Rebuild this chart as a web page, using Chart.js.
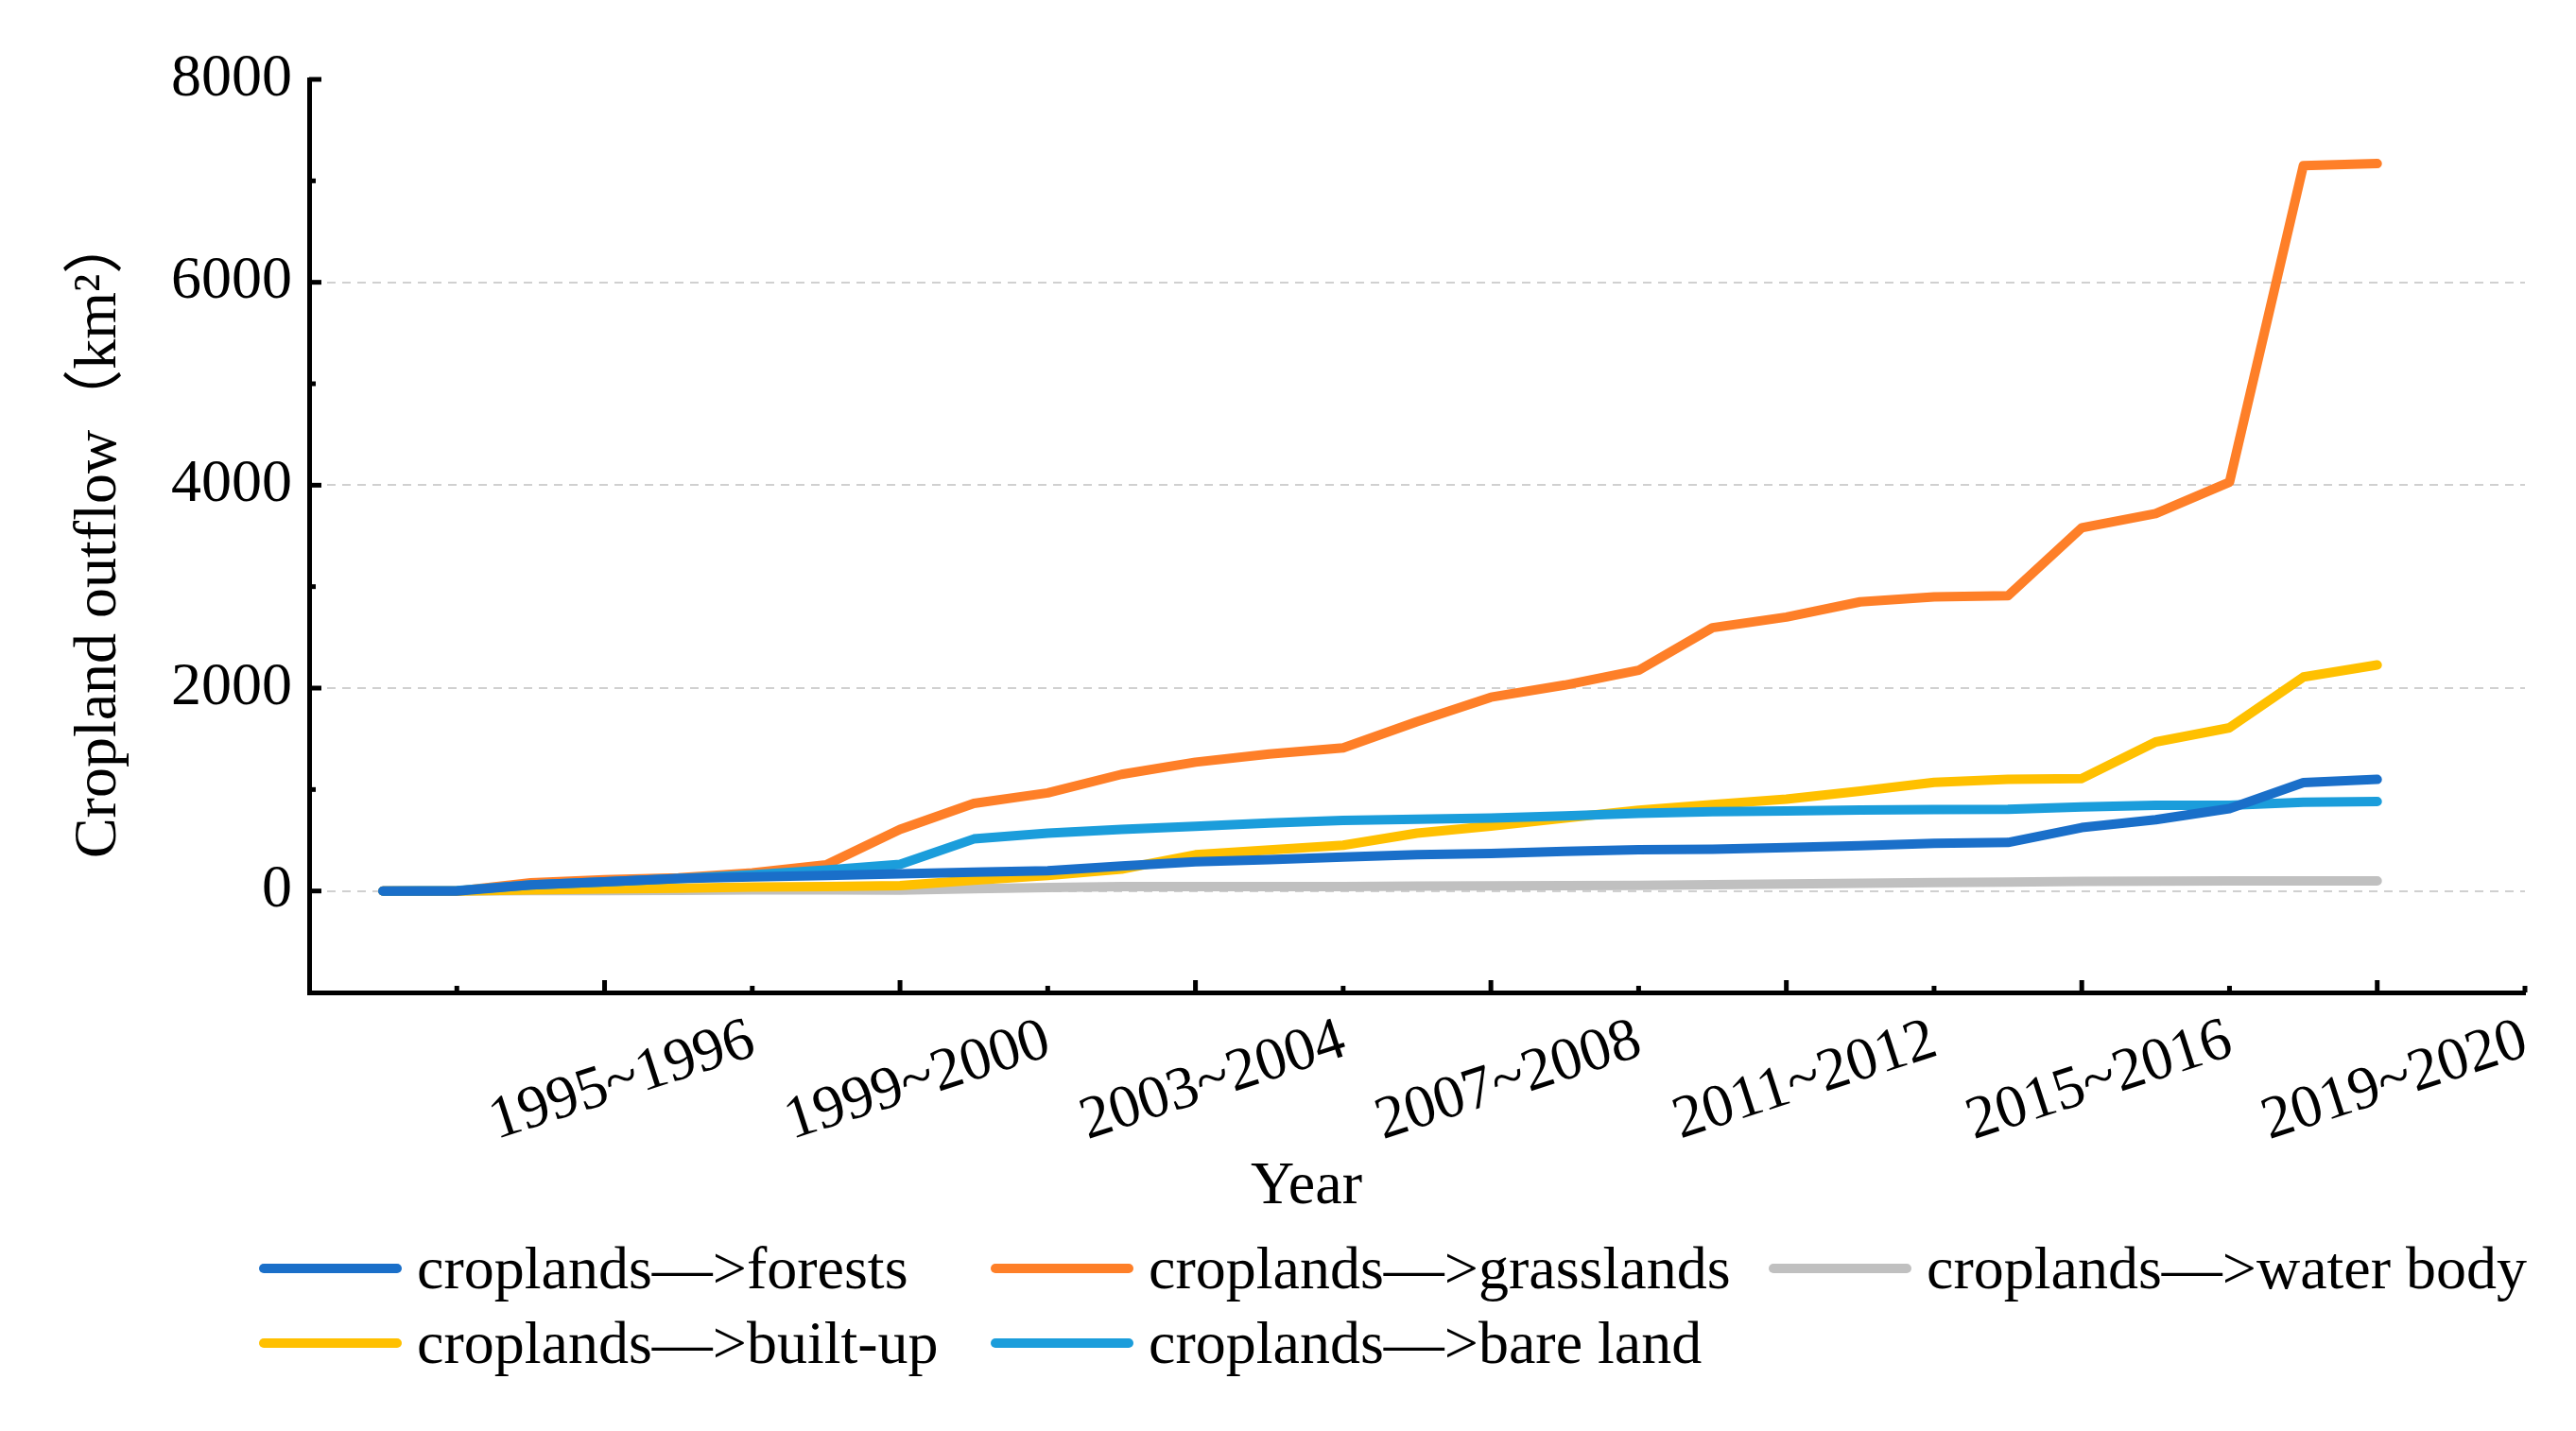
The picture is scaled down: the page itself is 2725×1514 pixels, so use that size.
<!DOCTYPE html>
<html><head><meta charset="utf-8">
<script src="https://cdn.jsdelivr.net/npm/chart.js@4.4.1/dist/chart.umd.min.js"></script>
<style>
html,body{margin:0;padding:0;background:#fff;}
#wrap{position:relative;width:2725px;height:1514px;overflow:hidden;}
canvas{position:absolute;left:0;top:0;}
.serif{font-family:"Liberation Serif","Times New Roman",serif;color:#000;}
#xtitle{position:absolute;left:1382px;top:1252px;transform:translate(-50%,-50%);font-size:64px;line-height:1;}
.leg{position:absolute;display:flex;align-items:center;font-size:64px;line-height:1;white-space:nowrap;transform:translateY(-50%);}
.leg .sw{width:151px;height:10px;border-radius:5px;margin-right:16px;}
</style></head>
<body><div id="wrap"><canvas id="c" width="2725" height="1514"></canvas>
<div id="xtitle" class="serif">Year</div><div id="legend"></div></div>
<script>
const categories = ["1992~1993","1993~1994","1994~1995","1995~1996","1996~1997","1997~1998","1998~1999","1999~2000","2000~2001","2001~2002","2002~2003","2003~2004","2004~2005","2005~2006","2006~2007","2007~2008","2008~2009","2009~2010","2010~2011","2011~2012","2012~2013","2013~2014","2014~2015","2015~2016","2016~2017","2017~2018","2018~2019","2019~2020"];
const forests    = [0,0,60,90,122,138,153,169,185,200,247,288,310,335,359,369,390,406,412,428,447,469,478,625,703,812,1069,1100];
const grasslands = [0,0,80,110,130,178,257,607,864,967,1150,1270,1350,1410,1670,1910,2030,2175,2595,2700,2850,2900,2910,3580,3720,4030,7150,7170];
const waterBody  = [0,0,5,5,6,10,10,8,22,34,44,44,44,44,47,50,53,56,62,69,75,84,88,94,97,100,100,100];
const builtUp    = [0,0,10,20,28,38,44,53,106,153,216,357,404,451,570,640,719,797,853,906,984,1070,1100,1109,1469,1609,2109,2228];
const bareLand   = [0,5,60,90,122,160,207,263,513,570,607,638,670,695,707,719,741,766,781,788,797,803,806,828,844,844,875,881];
const seriesNames = ["croplands\u2014>forests","croplands\u2014>grasslands","croplands\u2014>water body","croplands\u2014>built-up","croplands\u2014>bare land"];
const seriesColors = ["#1A6FC9","#FE7F28","#C0C0C0","#FFC000","#1B9DDB"];
const yTickLabels = [0,2000,4000,6000,8000];
const xLabelIndices = [3,7,11,15,19,23,27];

const serif = '"Liberation Serif","Times New Roman", "Noto Sans CJK SC", serif';
const values = [forests, grasslands, waterBody, builtUp, bareLand];
const drawOrder = [0,3,4,2,1];

const datasets = values.map((v,k)=>({
  label: seriesNames[k], data: v, borderColor: seriesColors[k], backgroundColor: seriesColors[k],
  borderWidth: 10, pointRadius: 0, tension: 0, borderCapStyle:'round', borderJoinStyle:'round',
  order: drawOrder[k], fill:false
}));

const tickPlugin = {
  id:'inTicks',
  afterDraw(chart){
    const {ctx, scales:{x,y}, chartArea:a} = chart;
    ctx.save(); ctx.strokeStyle='#000'; ctx.lineWidth=5; ctx.lineCap='butt';
    y.ticks.forEach(t=>{
      if (t.value <= -1000) return;
      const len = (t.value % 2000 === 0) ? 13 : 7;
      const py = y.getPixelForValue(t.value);
      ctx.beginPath(); ctx.moveTo(a.left, py); ctx.lineTo(a.left+len, py); ctx.stroke();
    });
    x.ticks.forEach(t=>{
      const len = xLabelIndices.includes(t.value) ? 13 : 7;
      const px = x.getPixelForValue(t.value);
      ctx.beginPath(); ctx.moveTo(px, a.bottom); ctx.lineTo(px, a.bottom-len); ctx.stroke();
    });
    ctx.restore();
  }
};

new Chart(document.getElementById('c'), {
  type:'line',
  data:{ labels: categories.map((_,i)=>i), datasets },
  options:{
    responsive:false, animation:false, devicePixelRatio:1,
    layout:{padding:{left:0,top:84,right:54,bottom:0}},
    plugins:{legend:{display:false}, tooltip:{enabled:false}},
    scales:{
      x:{ type:'linear', min:-1, max:29,
        afterBuildTicks(s){ const t=[]; for(let v=1; v<=29; v+=2) t.push({value:v}); s.ticks=t; },
        afterFit(s){ s.height = 464; s.paddingLeft = 0; s.paddingRight = 0; },
        grid:{display:false, drawTicks:false},
        border:{display:true, color:'#000', width:5},
        ticks:{ autoSkip:false, minRotation:18, maxRotation:18, padding:13, labelOffset:157,
          color:'#000', font:{family:serif, size:64},
          callback:(v)=> xLabelIndices.includes(v) ? categories[v] : '' }
      },
      y:{ min:-1000, max:8000,
        afterFit(s){ s.width = 327; s.paddingTop = 0; s.paddingBottom = 0; },
        grid:{ drawTicks:false, lineWidth:2,
          color:(c)=> (c.tick && yTickLabels.includes(c.tick.value) && c.tick.value < 8000) ? '#D0D0D0' : 'rgba(0,0,0,0)' },
        border:{display:true, color:'#000', width:5, dash:[9,7]},
        ticks:{ stepSize:1000, padding:18, color:'#000', font:{family:serif, size:64},
          callback:(v)=> yTickLabels.includes(v) ? String(v) : '' },
        title:{ display:true, text:'Cropland outflow\uFF08km\u00B2\uFF09', color:'#000',
          font:{family:serif, size:64}, padding:{top:67,bottom:0} }
      }
    }
  },
  plugins:[tickPlugin]
});

const legPos = [[274,1342],[1048,1342],[1871,1342],[274,1421],[1048,1421]];
const leg = document.getElementById('legend');
seriesNames.forEach((n,k)=>{
  const d = document.createElement('div'); d.className='leg serif';
  d.style.left = legPos[k][0]+'px'; d.style.top = legPos[k][1]+'px';
  const sw = document.createElement('span'); sw.className='sw'; sw.style.background=seriesColors[k];
  const tx = document.createElement('span'); tx.textContent = n;
  d.appendChild(sw); d.appendChild(tx); leg.appendChild(d);
});
</script>
</body></html>
